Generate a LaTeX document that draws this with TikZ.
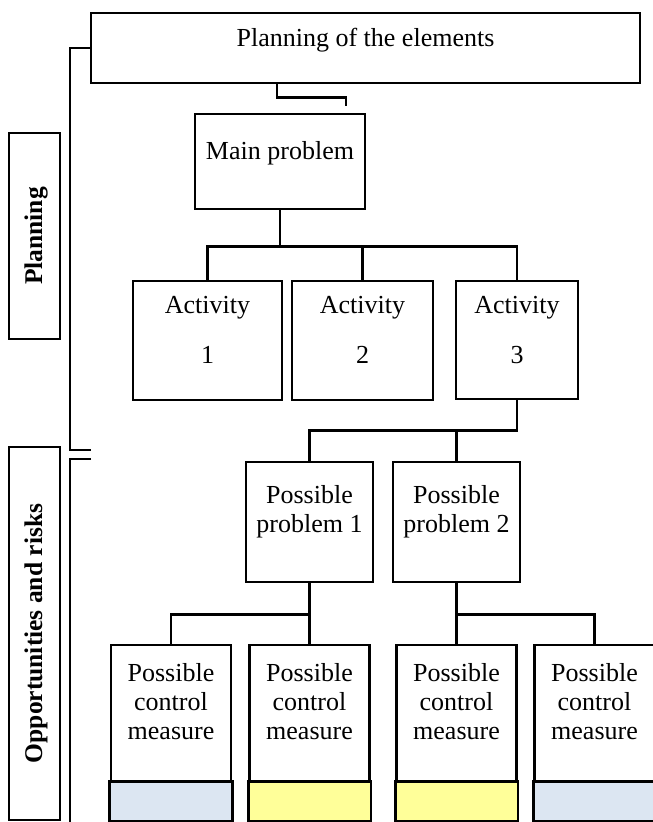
\documentclass[tikz,border=0pt]{standalone}
\usepackage{fontspec}
\setmainfont{Liberation Serif}
\definecolor{cellblue}{HTML}{DCE6F2}
\definecolor{cellyellow}{HTML}{FFFF99}
\begin{document}
\begin{tikzpicture}[x=1pt,y=-1pt,
  box/.style={draw, line width=2.7pt, inner sep=0pt},
  lnk/.style={line width=2.7pt},
  txt/.style={font=\fontsize{26}{29}\selectfont, align=center, inner sep=0pt},
  vtxt/.style={font=\fontsize{25.5}{29}\selectfont\bfseries, rotate=90, inner sep=0pt},
  cmbox/.style={box, minimum width=120pt, minimum height=175pt}
]
\useasboundingbox (0,0) rectangle (653,822);

% boxes
\node[box, minimum width=549pt, minimum height=70pt] (top) at (365.5,48) {};
\node[box, minimum width=170pt, minimum height=95pt] (mp) at (280,161.5) {};
\node[box, minimum width=149pt, minimum height=119pt] (a1) at (207.5,340.5) {};
\node[box, minimum width=141pt, minimum height=119pt] (a2) at (362.5,340.5) {};
\node[box, minimum width=122pt, minimum height=118pt] (a3) at (517,340) {};
\node[box, minimum width=127pt, minimum height=120pt] (pp1) at (309.5,522) {};
\node[box, minimum width=127pt, minimum height=120pt] (pp2) at (456.5,522) {};
\node[cmbox] (cm1) at (171,732.5) {};
\node[cmbox] (cm2) at (309.5,732.5) {};
\node[cmbox] (cm3) at (456.5,732.5) {};
\node[cmbox] (cm4) at (594.5,732.5) {};
\node[box, minimum width=51pt, minimum height=206pt] (plan) at (34.5,236) {};
\node[box, minimum width=51pt, minimum height=373pt] (opp) at (34.5,633.5) {};

% coloured cells
\draw[lnk, fill=cellblue]   (cm1.south west) rectangle ([yshift=40pt]cm1.south east);
\draw[lnk, fill=cellyellow] (cm2.south west) rectangle ([yshift=40pt]cm2.south east);
\draw[lnk, fill=cellyellow] (cm3.south west) rectangle ([yshift=40pt]cm3.south east);
\draw[lnk, fill=cellblue]   (cm4.south west) rectangle ([yshift=40pt]cm4.south east);

% texts
\node[txt] (ttop) at (365.5,40) {Planning of the elements};
\node[txt] (tmp) at (280,153) {Main problem};
\node[txt] (ta1) at (207.5,330) {Activity\\[21pt]1};
\node[txt] (ta2) at (362.5,330) {Activity\\[21pt]2};
\node[txt] (ta3) at (517,330) {Activity\\[21pt]3};
\node[txt] (tpp1) at (309.5,512) {Possible\\problem 1};
\node[txt] (tpp2) at (456.5,512) {Possible\\problem 2};
\node[txt] (tcm1) at (171,702) {Possible\\control\\measure};
\node[txt] (tcm2) at (309.5,702) {Possible\\control\\measure};
\node[txt] (tcm3) at (456.5,702) {Possible\\control\\measure};
\node[txt] (tcm4) at (594.5,702) {Possible\\control\\measure};
\node[vtxt] (tplan) at (36,236) {Planning};
\node[vtxt] (topp) at (36,633.5) {Opportunities and risks};

% connectors
\coordinate (topend) at (346,106);
\draw[lnk] ([xshift=-88.5pt]top.south) -- ++(0,13) -| (topend);
\draw[lnk] (mp.south) -- ++(0,36) coordinate (j0) -| (a1.north);
\draw[lnk] (j0) -| (a2.north);
\draw[lnk] (j0) -| (a3.north);
\draw[lnk] (a3.south) -- ++(0,30) coordinate (j1) -| (pp1.north);
\draw[lnk] (j1) -| (pp2.north);
\draw[lnk] (pp1.south) -- ++(0,31) coordinate (j2) -| (cm1.north);
\draw[lnk] (j2) -- (cm2.north);
\draw[lnk] (pp2.south) -- ++(0,31) coordinate (j3) -| (cm4.north);
\draw[lnk] (j3) -- (cm3.north);

% brackets
\coordinate (br1) at (91,450);
\coordinate (br2s) at (91,459);
\coordinate (br2e) at (70,823);
\draw[lnk] (top.west) -- (70,48) -- (70,450) -- (br1);
\draw[lnk] (br2s) -- (70,459) -- (br2e);
\end{tikzpicture}
\end{document}
